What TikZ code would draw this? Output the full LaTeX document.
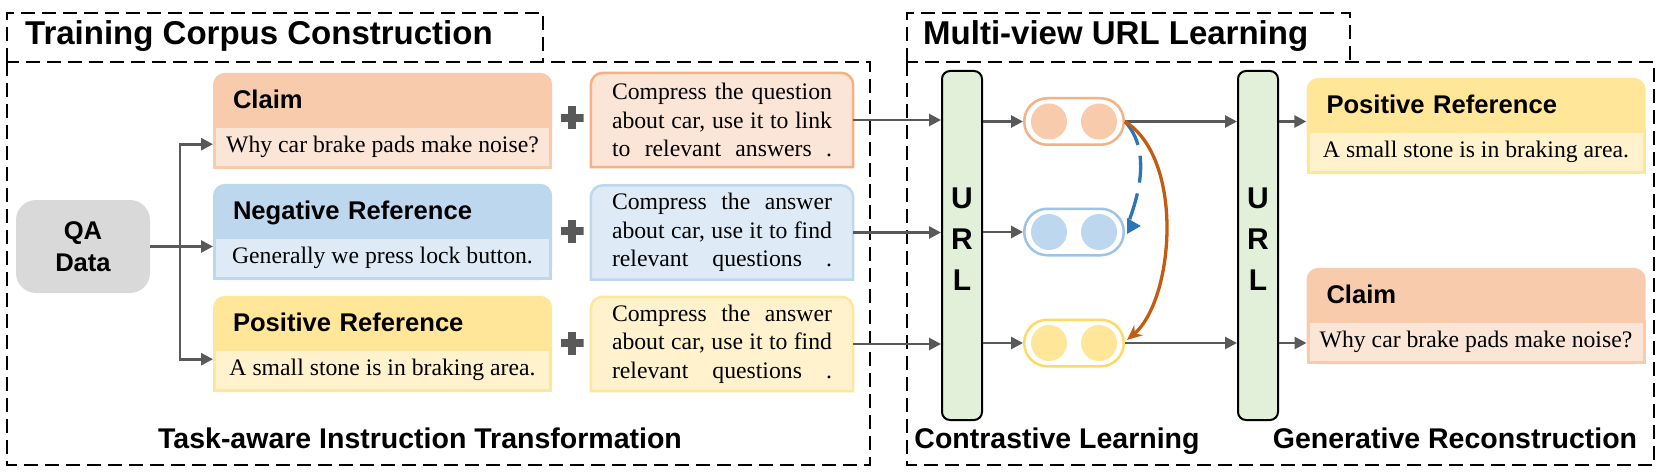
\documentclass[tikz,border=0pt]{standalone}
\usepackage{fontspec}
\setmainfont{Liberation Serif}
\setsansfont{Liberation Sans}
\usepackage{xcolor}
\definecolor{orghead}{HTML}{F8CBAD}
\definecolor{orgbody}{HTML}{FBE5D6}
\definecolor{orgline}{HTML}{F4B183}
\definecolor{bluhead}{HTML}{BDD7EE}
\definecolor{blubody}{HTML}{DEEBF7}
\definecolor{bluline}{HTML}{9DC3E6}
\definecolor{yelhead}{HTML}{FFE699}
\definecolor{yelbody}{HTML}{FFF2CC}
\definecolor{yelline}{HTML}{FFD966}
\definecolor{linkgray}{HTML}{595959}
\definecolor{qafill}{HTML}{D9D9D9}
\definecolor{urlfill}{HTML}{E2F0D9}
\definecolor{arcblue}{HTML}{2E75B6}
\definecolor{arcorange}{HTML}{C55A11}
\usepackage{tikz}
\usetikzlibrary{arrows.meta,backgrounds}

\begin{document}
\begin{tikzpicture}[x=1pt,y=-1pt,
frame/.style={draw=black,line width=2pt,dash pattern=on 14pt off 7pt},
ttl/.style={font=\sffamily\bfseries\fontsize{33}{38}\selectfont,inner sep=0pt},
sub/.style={font=\sffamily\bfseries\fontsize{28.5}{34}\selectfont,inner sep=0pt},
hd/.style={minimum width=339pt,minimum height=52pt,text width=299pt,inner xsep=20pt,inner ysep=0pt,align=left,text height=18.5pt,text depth=0pt,font=\sffamily\bfseries\fontsize{25.6}{30}\selectfont},
bd/.style={line width=3pt,minimum width=336pt,minimum height=41pt,inner sep=0pt,anchor=north,font=\fontsize{23.7}{28}\selectfont},
ins/.style={minimum width=262pt,minimum height=94pt,inner sep=0pt,align=center,font=\fontsize{23.7}{28.5}\selectfont},
tab/.style={line width=2.5pt},
qa/.style={fill=qafill,rounded corners=20pt,minimum width=134pt,minimum height=93pt,inner sep=0pt,align=center,font=\sffamily\bfseries\fontsize{25.6}{32}\selectfont},
url/.style={draw=black,line width=2pt,fill=urlfill,rounded corners=8pt,minimum width=40pt,minimum height=349pt,inner sep=0pt},
urltxt/.style={inner sep=0pt,align=center,font=\sffamily\bfseries\fontsize{30}{41}\selectfont},
pill/.style 2 args={draw=#1,line width=2.5pt,fill=white,rounded corners=23pt,minimum width=99.5pt,minimum height=46.5pt,inner sep=0pt,
  path picture={\fill[#2] ([xshift=-25pt]path picture bounding box.center) circle[radius=18pt];
                \fill[#2] ([xshift=25pt]path picture bounding box.center) circle[radius=18pt];}},
plus/.style={minimum size=23pt,inner sep=0pt,
  path picture={\fill[linkgray] ([xshift=-11.5pt,yshift=-4pt]path picture bounding box.center) rectangle ([xshift=11.5pt,yshift=4pt]path picture bounding box.center);
                \fill[linkgray] ([xshift=-4pt,yshift=-11.5pt]path picture bounding box.center) rectangle ([xshift=4pt,yshift=11.5pt]path picture bounding box.center);}},
link/.style={-{Triangle[length=12pt,width=12pt]},line width=2.7pt,draw=linkgray},
negarc/.style={-{Triangle[length=14pt,width=15pt]},line width=3.3pt,draw=arcblue,dash pattern=on 27pt off 11pt},
posarc/.style={-{Stealth[length=15pt,width=13pt]},line width=3.3pt,draw=arcorange}]
\useasboundingbox (0,0) rectangle (1660,476);
% dashed section frames
\draw[frame] (7,62) |- (543,13) -- (543,62);
\draw[frame] (7,62) rectangle (870,465);
\draw[frame] (907,62) |- (1350,13) -- (1350,62);
\draw[frame] (907,62) rectangle (1654,465);
\node[ttl,anchor=base west] (ttlcorpus) at (25,45) {Training Corpus Construction};
\node[ttl,anchor=base west] (ttlurl) at (923,45) {Multi-view URL Learning};
\node[sub,anchor=base] (subtask) at (420,448) {Task-aware Instruction Transformation};
\node[sub,anchor=base] (subcl) at (1057,448) {Contrastive Learning};
\node[sub,anchor=base] (subgr) at (1455,448) {Generative Reconstruction};
% training corpus
\node[qa] (qa) at (83,246.5) {QA\\Data};
\node[hd] (claimhd) at (382.5,99) {Claim};
\node[bd,draw=orghead,fill=orgbody] (claimbd) at (claimhd.south) {Why car brake pads make noise?};
\node[hd] (neghd) at (382.5,210) {Negative Reference};
\node[bd,draw=bluhead,fill=blubody] (negbd) at (neghd.south) {Generally we press lock button.};
\node[hd] (poshd) at (382.5,322) {Positive Reference};
\node[bd,draw=yelhead,fill=yelbody] (posbd) at (poshd.south) {A small stone is in braking area.};
\node[plus] (plus1) at (572,118) {};
\node[plus] (plus2) at (572,231) {};
\node[plus] (plus3) at (572,343) {};
\node[ins] (ins1) at (722,120) {\makebox[220pt][s]{Compress the question}\\\makebox[220pt][s]{about car, use it to link}\\\makebox[220pt][s]{to relevant answers .}};
\node[ins] (ins2) at (722,232.5) {\makebox[220pt][s]{Compress the answer}\\\makebox[220pt][s]{about car, use it to find}\\\makebox[220pt][s]{relevant questions .}};
\node[ins] (ins3) at (722,344) {\makebox[220pt][s]{Compress the answer}\\\makebox[220pt][s]{about car, use it to find}\\\makebox[220pt][s]{relevant questions .}};
\coordinate (split) at (180,246.5);
\draw[link] (qa.east) -- (qa.east -| negbd.west);
\draw[link] (split) |- ([yshift=3pt]claimbd.west);
\draw[link] (split) |- ([yshift=11pt]posbd.west);
% url learning
\node[url] (url1) at (962,245.5) {};
\node[urltxt] (url1t) at (962,239) {U\\R\\L};
\node[url] (url2) at (1258,245.5) {};
\node[urltxt] (url2t) at (1258,239) {U\\R\\L};
\node[pill={orgline}{orghead}] (p1) at (1074,121.5) {};
\node[pill={bluline}{bluhead}] (p2) at (1074,232) {};
\node[pill={yelline}{yelhead}] (p3) at (1074,343) {};
\node[hd] (rposhd) at (1476,104) {Positive Reference};
\node[bd,draw=yelhead,fill=yelbody] (rposbd) at (rposhd.south) {A small stone is in braking area.};
\node[hd] (rclaimhd) at (1476,294) {Claim};
\node[bd,draw=orghead,fill=orgbody] (rclaimbd) at (rclaimhd.south) {Why car brake pads make noise?};
\draw[link] (ins1.east) -- (ins1.east -| url1.west);
\draw[link] (ins2.east) -- (ins2.east -| url1.west);
\draw[link] (ins3.east) -- (ins3.east -| url1.west);
\draw[link] (p1.west -| url1.east) -- (p1.west);
\draw[link] (p2.west -| url1.east) -- (p2.west);
\draw[link] (p3.west -| url1.east) -- (p3.west);
\draw[link] (p1.east) -- (p1.east -| url2.west);
\draw[link] (p3.east) -- (p3.east -| url2.west);
\draw[link] (p1.east -| url2.east) -- (p1.east -| rposhd.west);
\draw[link] (p3.east -| url2.east) -- (p3.east -| rclaimbd.west);
\draw[negarc] (p1.east) .. controls +(35,38) and +(-16,0) .. ([xshift=16pt,yshift=6pt]p2.east);
\draw[posarc] (p1.east) .. controls +(60,38) and +(47,-40) .. ([xshift=2pt,yshift=3pt]p3.east);
% tabs behind the texts
\begin{scope}[on background layer]
\fill[orghead,rounded corners=12pt] (claimbd.south west) rectangle (claimhd.north east);
\fill[bluhead,rounded corners=12pt] (negbd.south west) rectangle (neghd.north east);
\fill[yelhead,rounded corners=12pt] (posbd.south west) rectangle (poshd.north east);
\fill[yelhead,rounded corners=12pt] (rposbd.south west) rectangle (rposhd.north east);
\fill[orghead,rounded corners=12pt] (rclaimbd.south west) rectangle (rclaimhd.north east);
\draw[tab,draw=orgline,fill=orgbody] (ins1.south west) [rounded corners=12pt] -- (ins1.north west) -- (ins1.north east) [sharp corners] -- (ins1.south east) -- cycle;
\draw[tab,draw=bluhead,fill=blubody] (ins2.south west) [rounded corners=12pt] -- (ins2.north west) -- (ins2.north east) [sharp corners] -- (ins2.south east) -- cycle;
\draw[tab,draw=yelhead,fill=yelbody] (ins3.south west) [rounded corners=12pt] -- (ins3.north west) -- (ins3.north east) [sharp corners] -- (ins3.south east) -- cycle;
\end{scope}
\end{tikzpicture}
\end{document}
